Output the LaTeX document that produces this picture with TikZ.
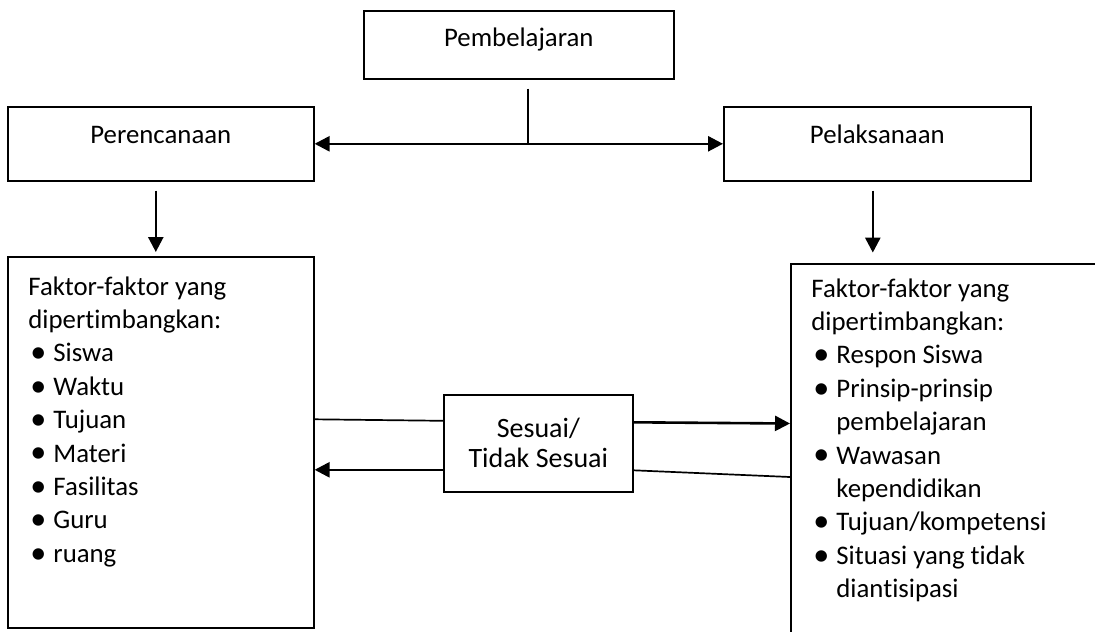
\documentclass[tikz,border=0pt]{standalone}
\usepackage{fontspec}
\setmainfont{Carlito}[Ligatures={NoCommon,NoContextual},Contextuals=NoAlternate]
\usetikzlibrary{arrows.meta,calc,positioning}
\newcommand\butir{\hspace*{1pt}\makebox[11.5pt][l]{\raisebox{-0.4pt}{\scalebox{1.2}{\textbullet}}}}
\newcommand\lanjut{\hspace*{12.5pt}}

\begin{document}
\begin{tikzpicture}[x=0.5pt,y=-0.5pt,
        >={Triangle[length=7.5pt,width=7.5pt]},
        kotak/.style={draw,line width=0.8pt,rectangle,inner sep=0pt,anchor=north west},
        isi/.style={inner sep=0pt,font=\fontsize{13.4}{16.7}\selectfont},
        panah/.style={line width=1.3pt},
        garis/.style={line width=0.85pt}]
        \useasboundingbox (0,0) rectangle (1095,631);
        \clip (0,0) rectangle (1095,631);

        \node[kotak,minimum width=155pt,minimum height=34pt] (belajar) at (363,10) {};
        \node[kotak,minimum width=153pt,minimum height=37pt] (rencana) at (7,106) {};
        \node[kotak,minimum width=153.5pt,minimum height=37pt] (laksana) at (723,106) {};
        \node[kotak,minimum width=153pt,minimum height=185.5pt] (faktorkiri) at (7,256) {};
        \node[kotak,minimum width=200pt,minimum height=200pt] (faktorkanan) at (790,263) {};
        \node[kotak,minimum width=94.5pt,minimum height=48.5pt,align=center,
            font=\fontsize{14}{15}\selectfont] (sesuai) at (443,394) {Sesuai/\\Tidak Sesuai};

        \node[isi,anchor=base] (tbelajar) at ($(belajar.north)+(0,37)$) {Pembelajaran};
        \node[isi,anchor=base] (trencana) at ($(rencana.north)+(0,37)$) {Perencanaan};
        \node[isi,anchor=base] (tlaksana) at ($(laksana.north)+(0,37)$) {Pelaksanaan};

        \node[isi,anchor=base west] (tkiri) at ($(faktorkiri.north west)+(21,39)$)
            {\begin{tabular}[t]{@{}l@{}}
            Faktor-faktor yang\\
            dipertimbangkan:\\
            \butir Siswa\\
            \butir Waktu\\
            \butir Tujuan\\
            \butir Materi\\
            \butir Fasilitas\\
            \butir Guru\\
            \butir ruang
            \end{tabular}};
        \node[isi,anchor=base west] (tkanan) at ($(faktorkanan.north west)+(21,34)$)
            {\begin{tabular}[t]{@{}l@{}}
            Faktor-faktor yang\\
            dipertimbangkan:\\
            \butir Respon Siswa\\
            \butir Prinsip-prinsip\\
            \lanjut pembelajaran\\
            \butir Wawasan\\
            \lanjut kependidikan\\
            \butir Tujuan/kompetensi\\
            \butir Situasi yang tidak\\
            \lanjut diantisipasi
            \end{tabular}};

        \coordinate (cabang) at ($(belajar.south)+(9,9)$);
        \draw[garis] (cabang) -- (cabang |- rencana.east);
        \draw[panah,<->] (rencana.east) -- (laksana.west);
        \draw[panah,->] ($(rencana.south)+(-5,9)$) -- ($(faktorkiri.north)+(-5,-4)$);
        \draw[panah,->] ($(laksana.south)+(-4.5,9)$) -- ($(laksana.south)+(-4.5,71)$);

        \draw[garis] ($(faktorkiri.east)+(0,-23)$) -- ($(sesuai.west)+(0,-22.5)$);
        \draw[panah,->] ($(sesuai.west)+(0,26.5)$) -- ($(faktorkiri.east)+(0,27.5)$);
        \draw[panah,->] ($(sesuai.east)+(0,-21)$) -- ($(faktorkanan.north west)+(0,160.5)$);
        \draw[garis] ($(sesuai.east)+(0,27)$) -- ($(faktorkanan.north west)+(0,214)$);
\end{tikzpicture}
\end{document}
